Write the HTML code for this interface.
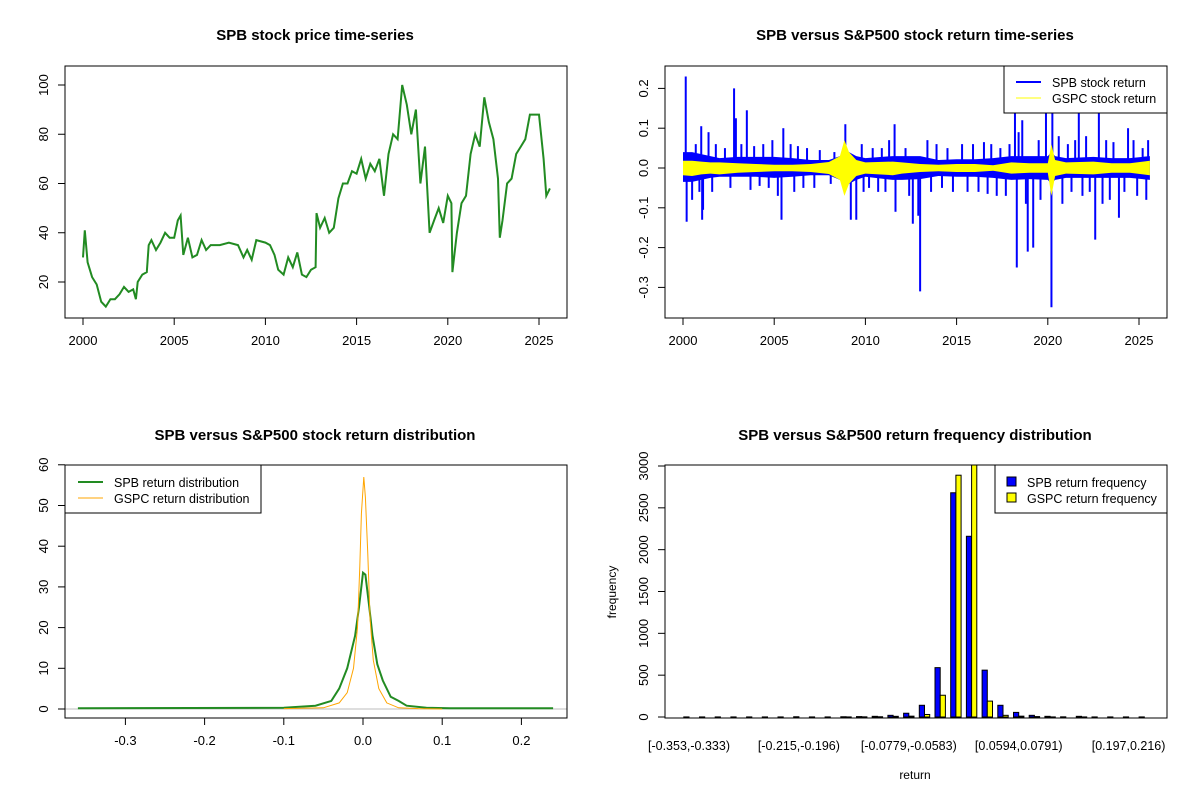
<!DOCTYPE html>
<html><head><meta charset="utf-8"><style>
body{margin:0;background:#fff}
svg{display:block;font-family:"Liberation Sans",Arial,sans-serif}
</style></head><body>
<svg id="svg" width="1200" height="800" xmlns="http://www.w3.org/2000/svg"></svg>
<script>
// ---------- data ----------
const priceYears=[2000,2000.1,2000.25,2000.5,2000.75,2001,2001.25,2001.5,2001.75,2002,2002.25,2002.5,2002.75,2002.9,2003,2003.25,2003.5,2003.6,2003.75,2004,2004.25,2004.5,2004.75,2005,2005.2,2005.35,2005.5,2005.75,2006,2006.25,2006.5,2006.75,2007,2007.5,2008,2008.5,2008.8,2009,2009.25,2009.5,2010,2010.25,2010.5,2010.7,2011,2011.25,2011.5,2011.75,2012,2012.25,2012.5,2012.75,2012.8,2013,2013.25,2013.5,2013.75,2014,2014.25,2014.5,2014.75,2015,2015.25,2015.5,2015.75,2016,2016.25,2016.5,2016.75,2017,2017.25,2017.5,2017.75,2018,2018.25,2018.5,2018.75,2019,2019.25,2019.5,2019.75,2020,2020.2,2020.25,2020.5,2020.75,2021,2021.25,2021.5,2021.75,2022,2022.25,2022.5,2022.75,2022.85,2023,2023.25,2023.5,2023.75,2024,2024.25,2024.5,2024.75,2025,2025.25,2025.4,2025.6];
const priceValues=[30,41,28,22,19,12,10,13,13,15,18,16,17,13,20,23,24,35,37,33,36,40,38,38,45,47,31,38,30,31,37,33,35,35,36,35,30,33,29,37,36,35,31,25,23,30,26,32,23,22,25,26,48,42,46,40,42,54,60,60,65,64,70,62,68,65,70,55,72,80,78,100,92,80,90,60,75,40,45,50,44,55,52,24,40,52,55,72,80,75,95,85,78,62,38,45,60,62,72,75,78,88,88,88,70,55,58];

const bandYears=[2000,2000.5,2001,2001.5,2002,2003,2004,2005,2006,2007,2008,2008.6,2008.85,2009.1,2009.5,2010,2011.5,2012,2013,2014,2015,2016,2017,2018,2019,2020,2020.2,2020.4,2021,2022.5,2023.5,2024.5,2025.6];
const spbHigh=[0.04,0.04,0.035,0.03,0.025,0.028,0.028,0.028,0.025,0.02,0.02,0.03,0.04,0.04,0.03,0.025,0.03,0.03,0.03,0.02,0.022,0.022,0.025,0.03,0.03,0.03,0.04,0.03,0.025,0.028,0.025,0.025,0.03];
const spbLow=[-0.035,-0.035,-0.03,-0.025,-0.022,-0.022,-0.022,-0.025,-0.022,-0.018,-0.018,-0.03,-0.04,-0.04,-0.03,-0.022,-0.03,-0.03,-0.028,-0.02,-0.022,-0.022,-0.025,-0.03,-0.028,-0.03,-0.04,-0.03,-0.025,-0.025,-0.025,-0.025,-0.03];
const gspcHigh=[0.018,0.018,0.016,0.014,0.014,0.012,0.01,0.008,0.008,0.01,0.015,0.03,0.07,0.04,0.02,0.014,0.016,0.014,0.01,0.008,0.01,0.01,0.007,0.014,0.012,0.012,0.06,0.02,0.014,0.016,0.012,0.012,0.018];
const gspcLow=[-0.018,-0.02,-0.016,-0.014,-0.016,-0.012,-0.01,-0.008,-0.008,-0.01,-0.015,-0.03,-0.07,-0.04,-0.02,-0.014,-0.018,-0.014,-0.01,-0.008,-0.01,-0.01,-0.007,-0.014,-0.012,-0.012,-0.07,-0.02,-0.014,-0.016,-0.012,-0.012,-0.018];
const spikeYears=[2000.15,2000.2,2000.5,2001,2001.05,2001.1,2001.4,2002.8,2002.9,2003.5,2005.4,2005.5,2008.9,2009.2,2009.5,2011.6,2011.65,2012.6,2012.9,2013,2018.2,2018.3,2018.6,2018.9,2019.2,2019.9,2020.2,2020.25,2021.7,2022.6,2022.8,2023.9,2024.4,2025.5,
 2000.7,2001.8,2002.3,2003.2,2003.9,2004.4,2004.9,2005.9,2006.3,2006.8,2007.5,2008.3,2009.8,2010.4,2010.9,2011.3,2012.2,2013.4,2013.9,2014.5,2015.3,2015.9,2016.5,2016.9,2017.4,2017.9,2018.4,2019.5,2020.6,2021.1,2021.5,2022.1,2023.2,2023.6,2024.7,2025.2,
 2000.9,2001.6,2002.6,2003.7,2004.2,2004.7,2005.2,2006.1,2006.6,2007.2,2008.1,2009.9,2010.2,2010.7,2011.1,2012.4,2013.6,2014.2,2014.8,2015.6,2016.2,2016.7,2017.2,2017.7,2018.8,2019.6,2020.8,2021.3,2021.9,2022.3,2023.0,2023.4,2024.2,2024.9,2025.4];
const spikeValues=[0.23,-0.135,-0.08,0.105,-0.13,-0.105,0.09,0.2,0.125,0.145,-0.13,0.1,0.11,-0.13,-0.13,0.11,-0.11,-0.14,-0.12,-0.31,0.14,-0.25,0.12,-0.21,-0.2,0.15,-0.35,0.15,0.14,-0.18,0.15,-0.125,0.1,0.07,
 0.06,0.06,0.05,0.06,0.055,0.06,0.07,0.06,0.055,0.05,0.045,0.04,0.06,0.05,0.05,0.07,0.05,0.07,0.06,0.05,0.06,0.06,0.065,0.06,0.05,0.06,0.09,0.07,0.08,0.06,0.07,0.08,0.07,0.065,0.07,0.05,
 -0.06,-0.06,-0.05,-0.055,-0.045,-0.05,-0.07,-0.06,-0.05,-0.05,-0.04,-0.06,-0.05,-0.06,-0.06,-0.07,-0.06,-0.05,-0.06,-0.06,-0.06,-0.065,-0.07,-0.07,-0.09,-0.08,-0.09,-0.06,-0.07,-0.06,-0.09,-0.08,-0.06,-0.07,-0.08];

const densSpbX=[-0.36,-0.1,-0.06,-0.04,-0.03,-0.02,-0.01,-0.005,0,0.003,0.008,0.012,0.018,0.025,0.035,0.045,0.055,0.08,0.11,0.24];
const densSpbY=[0.2,0.3,0.8,2,5,10,18,25,33.5,33,25,18,11,7,3,2,0.8,0.3,0.2,0.2];
const densGspcX=[-0.1,-0.05,-0.03,-0.02,-0.012,-0.007,-0.004,-0.002,0.001,0.003,0.006,0.009,0.013,0.02,0.03,0.045,0.07,0.1];
const densGspcY=[0.1,0.3,1.5,4,10,20,35,48,57,52,38,22,12,5,1.5,0.3,0.1,0];

const histLabels=["[-0.353,-0.333)","[-0.215,-0.196)","[-0.0779,-0.0583)","[0.0594,0.0791)","[0.197,0.216)"];
const histSpb=[1,1,1,1,1,1,1,3,1,1,3,5,8,20,45,140,590,2680,2160,560,140,55,20,8,2,8,1,1,1,1];
const histGspc=[0,0,0,0,0,0,0,0,0,0,1,2,3,8,10,30,260,2890,3100,190,20,10,5,1,0,1,0,0,0,0];

// ---------- helpers ----------
const svg=document.getElementById('svg');
const NS='http://www.w3.org/2000/svg';
function el(tag,attrs,parent){const e=document.createElementNS(NS,tag);for(const k in attrs)e.setAttribute(k,attrs[k]);(parent||svg).appendChild(e);return e;}
function txt(s,x,y,attrs,parent){const t=el('text',Object.assign({x:x,y:y,'font-size':13,'text-anchor':'middle',fill:'#000'},attrs||{}),parent);t.textContent=s;return t;}
function panel(name){const g=el('g',{});return g;}
function box(g,x0,y0,x1,y1){const r=el('rect',{x:x0,y:y0,width:x1-x0,height:y1-y0,fill:'none',stroke:'#000','stroke-width':1},g);}
function xTicks(g,vals,labels,sx,yb){const a=el('g',{},g);
 el('line',{x1:sx(vals[0]),x2:sx(vals[vals.length-1]),y1:yb,y2:yb,stroke:'#000'},a);
 vals.forEach((v,i)=>{el('line',{x1:sx(v),x2:sx(v),y1:yb,y2:yb+7,stroke:'#000'},a);const t=txt(labels[i],sx(v),yb+27,{},a);});}
function yTicks(g,vals,labels,sy,xl){const a=el('g',{},g);
 el('line',{x1:xl,x2:xl,y1:sy(vals[0]),y2:sy(vals[vals.length-1]),stroke:'#000'},a);
 vals.forEach((v,i)=>{el('line',{x1:xl-7,x2:xl,y1:sy(v),y2:sy(v),stroke:'#000'},a);const t=txt(labels[i],xl-17,sy(v),{transform:`rotate(-90 ${xl-17} ${sy(v)})`},a);});}
function title(g,s,x,y){const t=txt(s,x,y,{'font-size':15,'font-weight':'bold'},g);}
function path(pts){return pts.map((p,i)=>(i?'L':'M')+p[0].toFixed(1)+','+p[1].toFixed(1)).join('');}

// ---------- panel 1: price ----------
{const g=panel('price-panel');
 const sx=y=>83+(y-2000)*18.24, sy=v=>282-(v-20)*2.4625;
 title(g,'SPB stock price time-series',315,40);
 const p=el('path',{d:path(priceYears.map((y,i)=>[sx(y),sy(priceValues[i])])),fill:'none',stroke:'#228B22','stroke-width':2},g);
 
 box(g,65,66,567,318);
 xTicks(g,[2000,2005,2010,2015,2020,2025],['2000','2005','2010','2015','2020','2025'],sx,318);
 yTicks(g,[20,40,60,80,100],['20','40','60','80','100'],sy,65);}

// ---------- panel 2: returns ----------
{const g=panel('returns-panel');
 const sx=y=>683+(y-2000)*18.24, sy=v=>168-v*398;
 title(g,'SPB versus S&P500 stock return time-series',915,40);
 const b=el('path',{d:path(bandYears.map((y,i)=>[sx(y),sy(spbHigh[i])]).concat(bandYears.map((y,i)=>[sx(y),sy(spbLow[i])]).reverse()))+'Z',fill:'#0000FF'},g);
 
 spikeYears.forEach((y,i)=>{const l=el('line',{x1:sx(y),x2:sx(y),y1:sy(0),y2:sy(spikeValues[i]),stroke:'#0000FF','stroke-width':2},g);
  });
 const yb=el('path',{d:path(bandYears.map((y,i)=>[sx(y),sy(gspcHigh[i])]).concat(bandYears.map((y,i)=>[sx(y),sy(gspcLow[i])]).reverse()))+'Z',fill:'#FFFF00'},g);
 
 box(g,665,66,1167,318);
 xTicks(g,[2000,2005,2010,2015,2020,2025],['2000','2005','2010','2015','2020','2025'],sx,318);
 yTicks(g,[-0.3,-0.2,-0.1,0,0.1,0.2],['-0.3','-0.2','-0.1','0.0','0.1','0.2'],sy,665);
 const lg=el('g',{},g);
 el('rect',{x:1004,y:66,width:163,height:47,fill:'#fff',stroke:'#000'},lg);
 el('line',{x1:1016,x2:1041,y1:82,y2:82,stroke:'#0000FF','stroke-width':2},lg);
 el('line',{x1:1016,x2:1041,y1:98,y2:98,stroke:'#FFFF00','stroke-width':1},lg);
 txt('SPB stock return',1052,87,{'text-anchor':'start','font-size':12.5},lg);
 txt('GSPC stock return',1052,103,{'text-anchor':'start','font-size':12.5},lg);}

// ---------- panel 3: density ----------
{const g=panel('density-panel');
 const sx=x=>363+x*792, sy=v=>709-v*4.07;
 title(g,'SPB versus S&P500 stock return distribution',315,440);
 el('line',{x1:65,x2:567,y1:sy(0),y2:sy(0),stroke:'#bebebe'},g);
 const a=el('path',{d:path(densSpbX.map((x,i)=>[sx(x),sy(densSpbY[i])])),fill:'none',stroke:'#228B22','stroke-width':2},g);
 
 const c=el('path',{d:path(densGspcX.map((x,i)=>[sx(x),sy(densGspcY[i])])),fill:'none',stroke:'#FFA500','stroke-width':1},g);
 
 box(g,65,465,567,718);
 xTicks(g,[-0.3,-0.2,-0.1,0,0.1,0.2],['-0.3','-0.2','-0.1','0.0','0.1','0.2'],sx,718);
 yTicks(g,[0,10,20,30,40,50,60],['0','10','20','30','40','50','60'],sy,65);
 const lg=el('g',{},g);
 el('rect',{x:65,y:465,width:196,height:48,fill:'#fff',stroke:'#000'},lg);
 el('line',{x1:78,x2:103,y1:482,y2:482,stroke:'#228B22','stroke-width':2},lg);
 el('line',{x1:78,x2:103,y1:498,y2:498,stroke:'#FFA500'},lg);
 txt('SPB return distribution',114,487,{'text-anchor':'start','font-size':12.5},lg);
 txt('GSPC return distribution',114,503,{'text-anchor':'start','font-size':12.5},lg);}

// ---------- panel 4: histogram ----------
{const g=panel('histogram-panel');
 const gx=i=>689+i*15.7, sy=v=>717-v*(251/3000);
 title(g,'SPB versus S&P500 return frequency distribution',915,440);
 const cp=el('clipPath',{id:'hc'},g);el('rect',{x:665,y:465,width:502,height:253},cp);
 const bars=el('g',{'clip-path':'url(#hc)'},g);
 histSpb.forEach((v,i)=>{const r=el('rect',{x:gx(i)-5.2,y:sy(v),width:5.2,height:Math.max(0,sy(0)-sy(v)),fill:'#0000FF',stroke:'#000','stroke-width':1},bars);
  });
 histGspc.forEach((v,i)=>{const r=el('rect',{x:gx(i),y:sy(v),width:5.2,height:Math.max(0,sy(0)-sy(v)),fill:'#FFFF00',stroke:'#000','stroke-width':1},bars);
  });
 box(g,665,465,1167,718);
 histLabels.forEach((s,k)=>{const t=txt(s,gx(k*7),750,{'font-size':12.5},g);});
 yTicks(g,[0,500,1000,1500,2000,2500,3000],['0','500','1000','1500','2000','2500','3000'],sy,665);
 const xl=txt('return',915,779,{'font-size':12},g);
 const yl=txt('frequency',616,592,{'font-size':12,transform:'rotate(-90 616 592)'},g);
 const lg=el('g',{},g);
 el('rect',{x:995,y:465,width:172,height:48,fill:'#fff',stroke:'#000'},lg);
 el('rect',{x:1007,y:477,width:9,height:9,fill:'#0000FF',stroke:'#000'},lg);
 el('rect',{x:1007,y:493,width:9,height:9,fill:'#FFFF00',stroke:'#000'},lg);
 txt('SPB return frequency',1027,487,{'text-anchor':'start','font-size':12.5},lg);
 txt('GSPC return frequency',1027,503,{'text-anchor':'start','font-size':12.5},lg);}
</script>
</body></html>
